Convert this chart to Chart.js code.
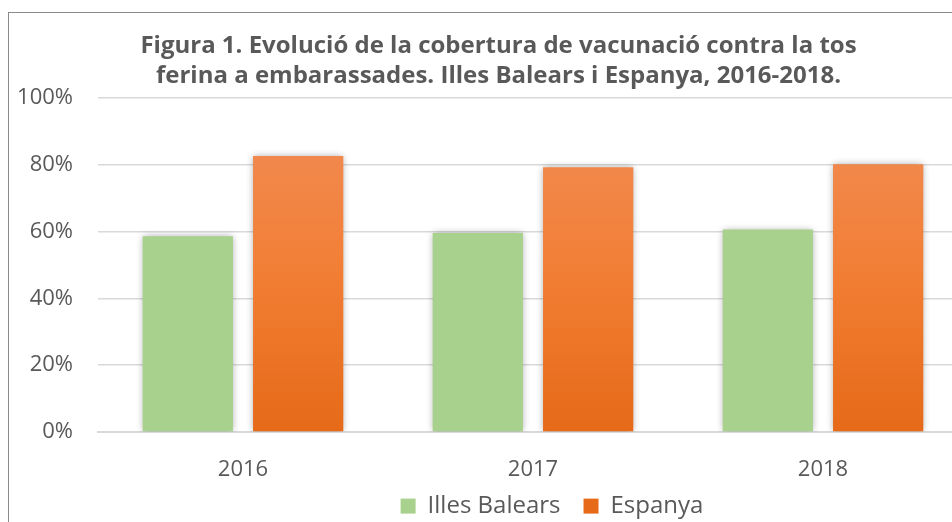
<!DOCTYPE html>
<html>
<head>
<meta charset="utf-8">
<script src="https://cdn.jsdelivr.net/npm/chart.js@4.4.1/dist/chart.umd.min.js"></script>
<style>
  html, body { margin: 0; padding: 0; background: #fff; overflow: hidden; width: 952px; height: 522px; }
  #wrap { position: absolute; left: 8px; top: 12px; width: 966px; height: 560px;
          border-left: 1px solid #8a8a8a; border-top: 1px solid #8a8a8a; }
  canvas { display: block; }
</style>
</head>
<body>
<div id="wrap"><canvas id="c" width="966" height="560"></canvas></div>
<script>
const categories = ['2016', '2017', '2018'];
const illesBalears = [58.6, 59.6, 60.6];
const espanya = [82.6, 79.3, 80.2];
const yTicks = [0, 20, 40, 60, 80, 100];
const titleLines = ['Figura 1. Evolució de la cobertura de vacunació contra la tos',
                    'ferina a embarassades. Illes Balears i Espanya, 2016-2018.'];

const FONT = "'Open Sans', 'Noto Sans', sans-serif";
const TXT = '#595959';
const PLOT_BOTTOM = 419;   // canvas y of the 0% line

function orangeGradient(ctx) {
  const chart = ctx.chart;
  const area = chart.chartArea;
  if (!area) return '#ED7D31';
  const g = chart.ctx.createLinearGradient(0, area.top, 0, area.bottom);
  g.addColorStop(0, '#F08D58');
  g.addColorStop(0.5, '#F27F36');
  g.addColorStop(1, '#E66A18');
  return g;
}

const shadowPlugin = {
  id: 'barShadow',
  beforeDatasetsDraw(chart) {
    const c = chart.ctx;
    c.save();
    c.shadowColor = 'rgba(0,0,0,0.35)';
    c.shadowBlur = 7;
    c.shadowOffsetX = 0;
    c.shadowOffsetY = 0;
  },
  afterDatasetsDraw(chart) { chart.ctx.restore(); }
};

// nudge title and legend to where the reference has them
const placeBoxes = {
  id: 'placeBoxes',
  afterLayout(chart) {
    const tb = chart.titleBlock;
    if (tb) { tb.left += 10; tb.right += 10; }
    const lg = chart.legend;
    if (!lg) return;
    const cx = 543, centreY = 495.5;
    const pad = lg.options.labels.padding;
    const itemH = lg.options.labels.font.size * 1.2;
    const w = 600;
    const h = lg.height;
    lg.left = cx - w / 2; lg.right = cx + w / 2; lg.width = w;
    lg.top = centreY - pad - itemH / 2;
    lg.bottom = lg.top + h;
  }
};

new Chart(document.getElementById('c'), {
  type: 'bar',
  data: {
    labels: categories,
    datasets: [
      { label: 'Illes Balears', data: illesBalears, backgroundColor: '#A9D18E',
        categoryPercentage: 0.761, barPercentage: 0.818 },
      { label: 'Espanya', data: espanya, backgroundColor: orangeGradient,
        categoryPercentage: 0.761, barPercentage: 0.818 }
    ]
  },
  plugins: [shadowPlugin, placeBoxes],
  options: {
    responsive: false,
    animation: false,
    devicePixelRatio: 1,
    layout: { padding: { left: 0, right: 7, top: 0, bottom: 0 } },
    plugins: {
      title: {
        display: true,
        text: titleLines,
        color: TXT,
        font: { family: FONT, size: 24, weight: 'bold', lineHeight: 1.25 },
        padding: { top: 18, bottom: 7 }
      },
      legend: {
        position: 'bottom',
        labels: {
          color: TXT,
          font: { family: FONT, size: 24 },
          boxWidth: 15, boxHeight: 15,
          padding: 23
        }
      },
      tooltip: { enabled: false }
    },
    scales: {
      x: {
        afterFit(s) {
          const lgH = s.chart.legend ? s.chart.legend.height : 0;
          s.height = Math.max(10, s.chart.height - PLOT_BOTTOM - lgH);
        },
        grid: { display: false, drawTicks: false },
        border: { display: true, color: '#D9D9D9', width: 2 },
        ticks: { color: TXT, font: { family: FONT, size: 22 }, padding: 25 }
      },
      y: {
        min: 0, max: 100,
        afterFit(s) { s.width = 89; },
        afterBuildTicks(s) { s.ticks = yTicks.map(v => ({ value: v })); },
        grid: { color: '#D9D9D9', lineWidth: 1.5, drawTicks: false },
        border: { display: false },
        ticks: { color: TXT, font: { family: FONT, size: 22 }, padding: 25,
                 callback: v => v + '%' }
      }
    }
  }
});
</script>
</body>
</html>
